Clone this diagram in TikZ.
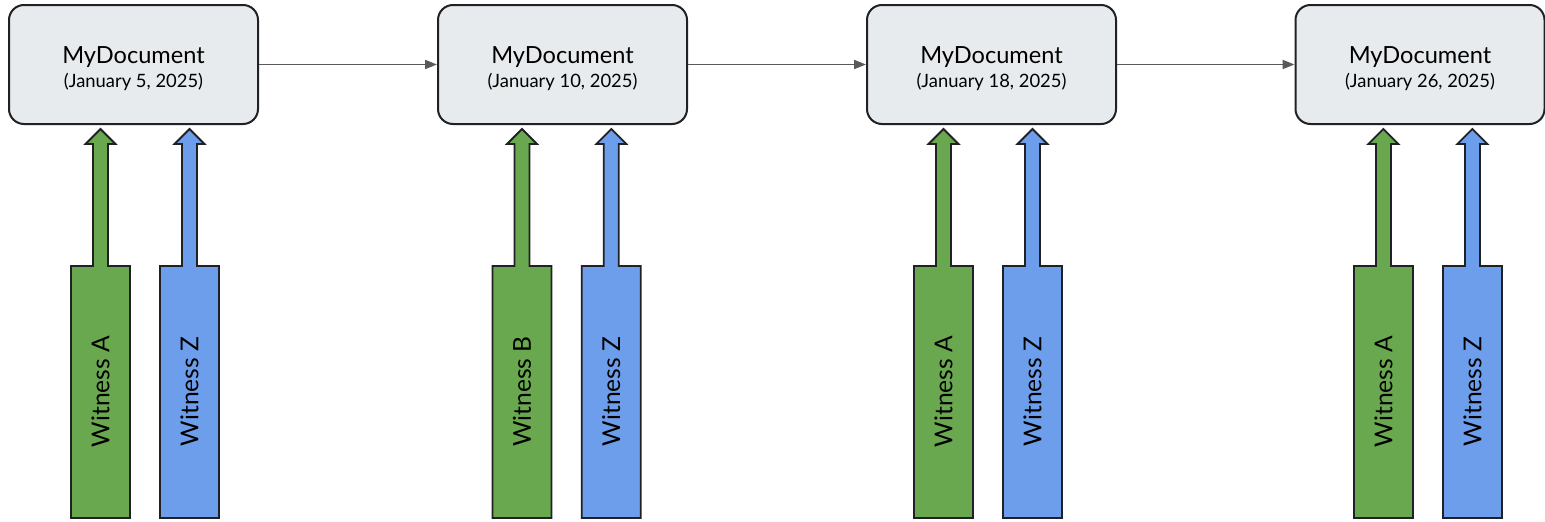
\documentclass[tikz,border=0pt]{standalone}
\usepackage{fontspec}
\setmainfont{Lato}
\usetikzlibrary{arrows.meta}

\definecolor{docfill}{HTML}{E8EBED}
\definecolor{edgeline}{HTML}{202124}
\definecolor{linkgray}{HTML}{595959}
\definecolor{witgreen}{HTML}{6AA84F}
\definecolor{witblue}{HTML}{6D9EEB}

\tikzset{
  docbox/.style={draw=edgeline, line width=2pt, fill=docfill, rounded corners=15pt,
    minimum width=249pt, minimum height=119pt, inner sep=0pt},
  doctitle/.style={font=\fontsize{23.6}{28}\selectfont, anchor=base, inner sep=0pt},
  docdate/.style={font=\fontsize{18.4}{22}\selectfont, anchor=base, inner sep=0pt},
  link/.style={draw=linkgray, line width=1.8pt, -{Triangle[length=12pt,width=9pt]}},
  witoutline/.style={draw=edgeline, line width=1.8pt, line join=miter},
  witlabel/.style={font=\fontsize{24.6}{29}\selectfont, rotate=90, inner sep=0pt}
}

% block arrow: wide labelled body, narrow shaft, head pointing up
\newcommand\witnessarrow[4]{%
  \filldraw[witoutline, fill=#3]
    ({#2-29.5},518) -- ({#2-29.5},266) -- ({#2-7.5},266) -- ({#2-7.5},144)
    -- ({#2-15},144) -- (#2,129) -- ({#2+15},144) -- ({#2+7.5},144)
    -- ({#2+7.5},266) -- ({#2+29.5},266) -- ({#2+29.5},518) -- cycle;
  \node[witlabel] (#1) at (#2,391.5) {#4};
}

\newcommand\docnode[3]{%
  \node[docbox] (#1) at (#2,64.5) {};
  \node[doctitle] (#1t) at (#2,63) {MyDocument};
  \node[docdate] (#1d) at (#2,87) {(#3)};
}

\begin{document}
\begin{tikzpicture}[x=1pt, y=-1pt]
  \useasboundingbox (0,0) rectangle (1545,522);

  \docnode{d1}{133.5}{January 5, 2025}
  \docnode{d2}{562.5}{January 10, 2025}
  \docnode{d3}{991.5}{January 18, 2025}
  \docnode{d4}{1420}{January 26, 2025}

  \draw[link] (d1.east) -- (d2.west);
  \draw[link] (d2.east) -- (d3.west);
  \draw[link] (d3.east) -- (d4.west);

  \witnessarrow{w1a}{100.5}{witgreen}{Witness A}
  \witnessarrow{w1z}{189.5}{witblue}{Witness Z}
  \witnessarrow{w2b}{522}{witgreen}{Witness B}
  \witnessarrow{w2z}{611.3}{witblue}{Witness Z}
  \witnessarrow{w3a}{943.5}{witgreen}{Witness A}
  \witnessarrow{w3z}{1032.5}{witblue}{Witness Z}
  \witnessarrow{w4a}{1383.4}{witgreen}{Witness A}
  \witnessarrow{w4z}{1472.4}{witblue}{Witness Z}
\end{tikzpicture}
\end{document}
